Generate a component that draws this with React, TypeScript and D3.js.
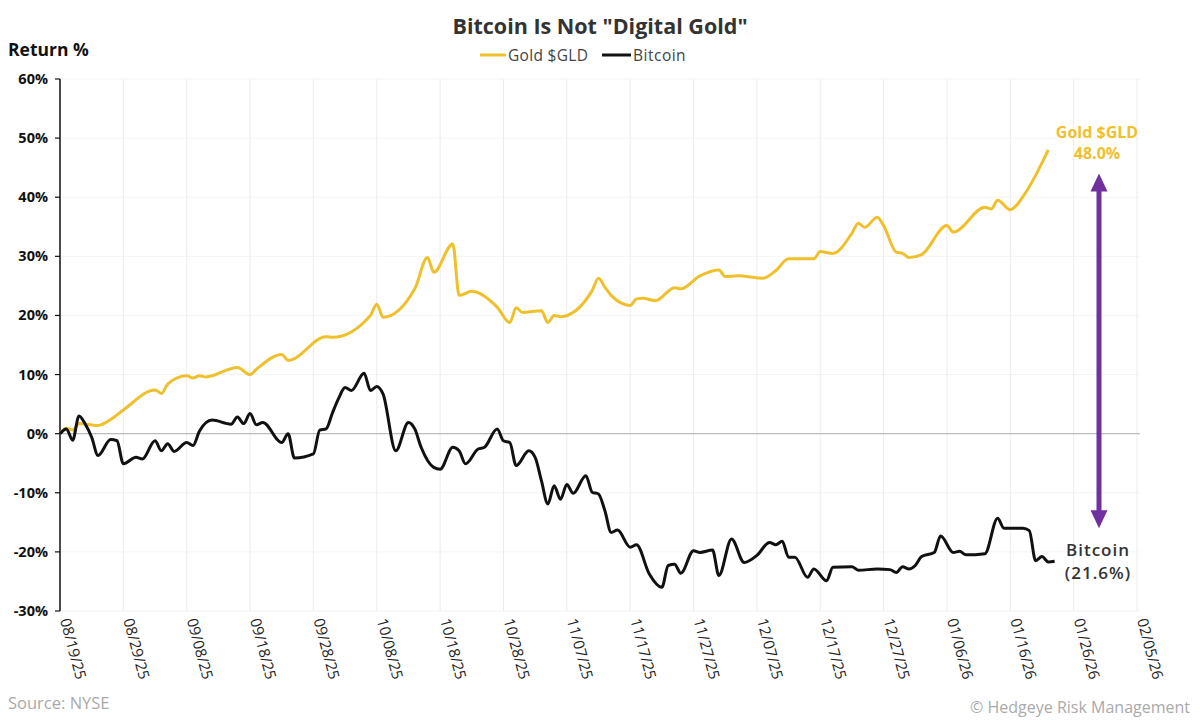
import React from 'react';
import * as d3 from 'd3';

// gold $GLD return %
const goldDates = [
  '2025-08-19', '2025-08-20', '2025-08-21', '2025-08-22', '2025-08-25', '2025-08-27', '2025-08-29',
  '2025-09-03', '2025-09-04', '2025-09-05', '2025-09-08', '2025-09-09', '2025-09-10', '2025-09-11',
  '2025-09-16', '2025-09-18', '2025-09-19', '2025-09-23', '2025-09-24', '2025-09-30', '2025-10-01',
  '2025-10-07', '2025-10-08', '2025-10-09', '2025-10-14', '2025-10-16', '2025-10-17', '2025-10-20',
  '2025-10-21', '2025-10-23', '2025-10-27', '2025-10-29', '2025-10-30', '2025-10-31', '2025-11-03',
  '2025-11-04', '2025-11-05', '2025-11-06', '2025-11-11', '2025-11-12', '2025-11-13', '2025-11-14',
  '2025-11-17', '2025-11-18', '2025-11-19', '2025-11-21', '2025-11-24', '2025-11-25', '2025-11-28',
  '2025-12-01', '2025-12-02', '2025-12-04', '2025-12-08', '2025-12-10', '2025-12-12', '2025-12-16',
  '2025-12-17', '2025-12-19', '2025-12-22', '2025-12-23', '2025-12-24', '2025-12-26', '2025-12-27',
  '2025-12-29', '2025-12-30', '2025-12-31', '2026-01-02', '2026-01-06', '2026-01-07', '2026-01-12',
  '2026-01-13', '2026-01-14', '2026-01-16', '2026-01-18', '2026-01-20', '2026-01-22',
];
const goldValues = [
  0.0, 0.9, 0.6, 1.7, 1.4, 2.4, 4.0,
  7.4, 6.8, 8.4, 9.8, 9.4, 9.8, 9.6,
  11.2, 10.0, 10.9, 13.4, 12.4, 16.4, 16.3,
  20.0, 21.9, 19.7, 24.5, 29.8, 27.3, 32.1,
  23.4, 24.1, 21.4, 18.8, 21.3, 20.5, 20.8,
  18.8, 20.0, 19.8, 24.2, 26.3, 24.8, 23.4,
  21.7, 22.8, 22.9, 22.5, 24.7, 24.5, 26.7,
  27.7, 26.6, 26.7, 26.3, 27.6, 29.6, 29.6,
  30.8, 30.5, 33.9, 35.6, 34.9, 36.6, 35.2,
  30.7, 30.5, 29.8, 30.3, 35.2, 34.1, 38.3,
  38.0, 39.5, 37.9, 40.1, 43.7, 48.0,
];

// bitcoin return %
const btcDates = [
  '2025-08-19', '2025-08-20', '2025-08-21', '2025-08-22', '2025-08-23', '2025-08-24', '2025-08-25',
  '2025-08-27', '2025-08-28', '2025-08-29', '2025-08-31', '2025-09-01', '2025-09-03', '2025-09-04',
  '2025-09-05', '2025-09-06', '2025-09-08', '2025-09-09', '2025-09-10', '2025-09-12', '2025-09-15',
  '2025-09-16', '2025-09-17', '2025-09-18', '2025-09-19', '2025-09-20', '2025-09-23', '2025-09-24',
  '2025-09-25', '2025-09-28', '2025-09-29', '2025-09-30', '2025-10-01', '2025-10-02', '2025-10-03',
  '2025-10-04', '2025-10-06', '2025-10-07', '2025-10-08', '2025-10-09', '2025-10-11', '2025-10-13',
  '2025-10-14', '2025-10-15', '2025-10-17', '2025-10-18', '2025-10-20', '2025-10-21', '2025-10-22',
  '2025-10-24', '2025-10-25', '2025-10-27', '2025-10-28', '2025-10-29', '2025-10-30', '2025-11-01',
  '2025-11-02', '2025-11-03', '2025-11-04', '2025-11-05', '2025-11-06', '2025-11-07', '2025-11-08',
  '2025-11-10', '2025-11-11', '2025-11-12', '2025-11-13', '2025-11-14', '2025-11-15', '2025-11-17',
  '2025-11-18', '2025-11-20', '2025-11-22', '2025-11-23', '2025-11-24', '2025-11-25', '2025-11-27',
  '2025-11-28', '2025-11-30', '2025-12-01', '2025-12-03', '2025-12-05', '2025-12-07', '2025-12-09',
  '2025-12-10', '2025-12-11', '2025-12-12', '2025-12-13', '2025-12-15', '2025-12-16', '2025-12-18',
  '2025-12-19', '2025-12-22', '2025-12-23', '2025-12-26', '2025-12-28', '2025-12-29', '2025-12-30',
  '2025-12-31', '2026-01-01', '2026-01-02', '2026-01-04', '2026-01-05', '2026-01-07', '2026-01-08',
  '2026-01-09', '2026-01-12', '2026-01-14', '2026-01-15', '2026-01-18', '2026-01-19', '2026-01-20',
  '2026-01-21', '2026-01-22', '2026-01-23',
];
const btcValues = [
  0.0, 0.8, -1.1, 3.0, 1.6, -0.6, -3.7,
  -1.0, -1.2, -5.1, -4.0, -4.3, -1.2, -2.9,
  -1.7, -3.0, -1.5, -2.0, 0.4, 2.3, 1.6,
  2.8, 1.7, 3.4, 1.5, 1.9, -1.5, 0.0,
  -4.1, -3.4, 0.6, 0.8, 3.5, 6.0, 7.8,
  7.3, 10.2, 7.3, 8.0, 6.7, -2.9, 1.9,
  0.8, -2.3, -5.7, -6.0, -2.3, -2.9, -5.1,
  -2.6, -2.3, 0.8, -1.2, -1.5, -5.4, -2.9,
  -4.0, -8.0, -11.9, -8.8, -11.1, -8.6, -10.1,
  -7.1, -9.9, -10.2, -13.0, -16.7, -16.3, -19.2,
  -18.8, -23.7, -26.0, -22.3, -22.1, -23.6, -19.8,
  -20.1, -19.7, -24.0, -17.8, -21.8, -20.6, -18.4,
  -18.8, -18.2, -20.9, -20.9, -24.3, -22.9, -24.9,
  -22.6, -22.5, -23.1, -22.9, -23.0, -23.5, -22.5,
  -22.9, -22.3, -20.8, -20.1, -17.3, -20.1, -19.9,
  -20.5, -20.3, -14.3, -16.0, -16.0, -16.4, -21.5,
  -20.8, -21.7, -21.6,
];

const yTicks = [60, 50, 40, 30, 20, 10, 0, -10, -20, -30];
const startDate = '2025-08-19';
const endDate = '2026-02-05';
const tickStepDays = 10;

const GOLD = '#F0C02C';
const PURPLE = '#7030A0';
const FONT = "'Open Sans', 'Noto Sans', sans-serif";

const parse = d3.utcParse('%Y-%m-%d');
const fmt = d3.utcFormat('%m/%d/%y');

const App: React.FC = () => {
  const width = 1200;
  const height = 720;
  const left = 60;
  const right = 1137;
  const top = 79;
  const bottom = 611;

  const x0 = parse(startDate) as Date;
  const x1 = parse(endDate) as Date;
  const x = d3.scaleUtc().domain([x0, x1]).range([left, right]);
  const y = d3.scaleLinear().domain([-30, 60]).range([bottom, top]);

  const nTicks = d3.utcDay.count(x0, x1) / tickStepDays;
  const xTicks = d3.range(0, nTicks + 1).map((i) => d3.utcDay.offset(x0, i * tickStepDays));

  const line = d3
    .line<[Date, number]>()
    .x((d) => x(d[0]))
    .y((d) => y(d[1]))
    .curve(d3.curveMonotoneX);

  const gold = goldDates.map((d, i) => [parse(d) as Date, goldValues[i]] as [Date, number]);
  const btc = btcDates.map((d, i) => [parse(d) as Date, btcValues[i]] as [Date, number]);

  const goldLast = gold[gold.length - 1];
  const btcLast = btc[btc.length - 1];

  // spread arrow
  const ax = 1099;
  const aTop = y(44);
  const aBot = y(-16);
  const head = 18;
  const hw = 8.5;

  return (
    <svg
      width={width}
      height={height}
      style={{ position: 'absolute', left: 0, top: 0, background: '#fff' }}
      fontFamily={FONT}
    >
      <text x={600} y={34} textAnchor="middle" fontSize={21.5} fontWeight={700} fill="#333">
        Bitcoin Is Not "Digital Gold"
      </text>

      {/* legend */}
      <line x1={480} x2={506} y1={55} y2={55} stroke={GOLD} strokeWidth={3} />
      <text x={508} y={60.5} fontSize={15.5} fill="#444" letterSpacing={0.3}>Gold $GLD</text>
      <line x1={602} x2={631} y1={55} y2={55} stroke="#111" strokeWidth={3} />
      <text x={633} y={60.5} fontSize={15.5} fill="#444" letterSpacing={0.5}>Bitcoin</text>

      <text x={8} y={56} fontSize={17.5} fontWeight={700} fill="#111">Return %</text>

      {/* grid */}
      {yTicks.map((t) => (
        <line key={'h' + t} x1={left} x2={right + 3} y1={y(t)} y2={y(t)} stroke="#f4f4f4" />
      ))}
      {xTicks.map((t, i) =>
        i === 0 ? null : (
          <line key={'v' + i} x1={x(t)} x2={x(t)} y1={top} y2={bottom} stroke="#ececec" />
        )
      )}
      <line x1={left} x2={right + 3} y1={y(0)} y2={y(0)} stroke="#bdbdbd" strokeWidth={1.3} />

      {/* y axis */}
      <line x1={left} x2={left} y1={top} y2={bottom} stroke="#111" strokeWidth={1.5} />
      {yTicks.map((t) => (
        <g key={'yt' + t}>
          <line x1={left - 5} x2={left} y1={y(t)} y2={y(t)} stroke="#111" strokeWidth={1.2} />
          <text x={48} y={y(t) + 5} textAnchor="end" fontSize={14.5} fontWeight={700} fill="#111">
            {t + '%'}
          </text>
        </g>
      ))}

      {/* x tick labels */}
      {xTicks.map((t, i) => (
        <text
          key={'xt' + i}
          transform={`translate(${x(t)},${bottom + 9}) rotate(75)`}
          fontSize={15}
          fill="#222"
        >
          {fmt(t)}
        </text>
      ))}

      {/* series */}
      <path d={line(gold) || ''} fill="none" stroke={GOLD} strokeWidth={3} strokeLinejoin="round" />
      <path d={line(btc) || ''} fill="none" stroke="#111" strokeWidth={3} strokeLinejoin="round" />

      {/* end labels */}
      <text x={1097} y={y(goldLast[1]) - 12} textAnchor="middle" fontSize={16} fontWeight={700} fill={GOLD}>
        Gold $GLD
      </text>
      <text x={1097} y={y(goldLast[1]) + 9} textAnchor="middle" fontSize={16} fontWeight={700} fill={GOLD}>
        {goldLast[1].toFixed(1) + '%'}
      </text>
      <text x={1098} y={y(btcLast[1]) - 5} textAnchor="middle" fontSize={17} fontWeight={600} fill="#333" letterSpacing={1}>
        Bitcoin
      </text>
      <text x={1098} y={y(btcLast[1]) + 18} textAnchor="middle" fontSize={17} fontWeight={600} fill="#333" letterSpacing={1}>
        {'(' + Math.abs(btcLast[1]).toFixed(1) + '%)'}
      </text>

      {/* arrow */}
      <line x1={ax} x2={ax} y1={aTop + head - 2} y2={aBot - head + 2} stroke={PURPLE} strokeWidth={5} />
      <path d={`M${ax},${aTop} L${ax + hw},${aTop + head} L${ax - hw},${aTop + head} Z`} fill={PURPLE} />
      <path d={`M${ax},${aBot} L${ax + hw},${aBot - head} L${ax - hw},${aBot - head} Z`} fill={PURPLE} />

      <text x={8} y={709} fontSize={16.5} fill="#aaa">Source: NYSE</text>
      <text x={1190} y={713} textAnchor="end" fontSize={16} fill="#aaa">© Hedgeye Risk Management</text>
    </svg>
  );
};

export default App;
